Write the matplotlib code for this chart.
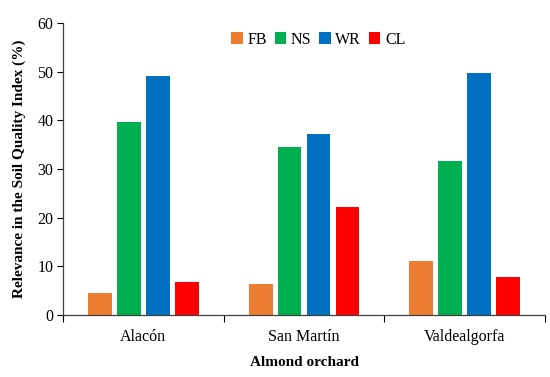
import numpy as np
import matplotlib.pyplot as plt

orchards = ['Alacón', 'San Martín', 'Valdealgorfa']
series = ['FB', 'NS', 'WR', 'CL']
colors = ['#ED7D31', '#00B050', '#0070C0', '#FF0000']

fb = [4.5, 6.3, 11.1]
ns = [39.7, 34.6, 31.6]
wr = [49.2, 37.2, 49.8]
cl = [6.7, 22.2, 7.9]
values = [fb, ns, wr, cl]

plt.rcParams['font.family'] = ['Liberation Serif', 'DejaVu Serif']

fig = plt.figure(figsize=(5.5, 3.77), dpi=100)
ax = fig.add_axes([0.1145, 0.1645, 0.8765, 0.7745])

x = np.arange(len(orchards))
pitch = 0.18
width = 0.148
for i, (name, vals) in enumerate(zip(series, values)):
    ax.bar(x + (i - 1.5) * pitch, vals, width, color=colors[i], label=name)

ax.set_xlim(-0.5, 2.5)
ax.set_ylim(0, 60)
ax.set_yticks(range(0, 61, 10))
ax.tick_params(axis='y', labelsize=11.5, length=4, width=0.8, pad=3)

# category labels in the middle, tick marks at the group boundaries
ax.set_xticks(x)
ax.set_xticklabels(orchards, fontsize=11.5)
ax.tick_params(axis='x', which='major', length=0, pad=10)
ax.set_xticks([-0.5, 0.5, 1.5, 2.5], minor=True)
ax.tick_params(axis='x', which='minor', length=5, width=0.8)

for s in ['top', 'right']:
    ax.spines[s].set_visible(False)
for s in ['left', 'bottom']:
    ax.spines[s].set_color('#404040')
    ax.spines[s].set_linewidth(0.9)

ax.set_ylabel('Relevance in the Soil Quality Index (%)', fontsize=11, fontweight='bold', labelpad=8)
ax.set_xlabel('Almond orchard', fontsize=11, fontweight='bold', labelpad=8)

ax.legend(loc='upper center', bbox_to_anchor=(0.53, 1.02), ncol=4, frameon=False,
          fontsize=11.5, handlelength=0.7, handleheight=0.7, handletextpad=0.3,
          columnspacing=0.5)

fig.savefig('out.png', dpi=100)
